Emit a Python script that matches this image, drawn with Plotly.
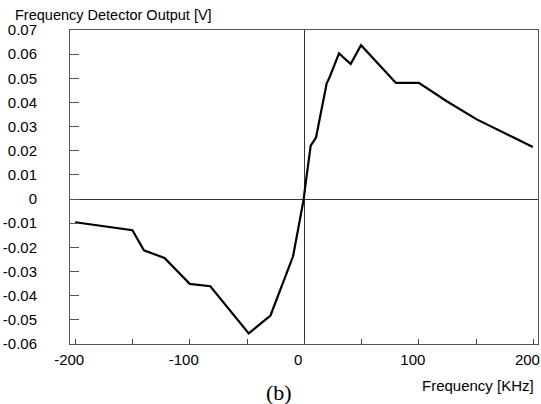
import plotly.graph_objects as go

freq_khz = [-200, -150, -140, -122, -100, -82, -48.5, -29.5, -9.8, -0.5, 0.8, 5.6, 10.2, 19.5, 22.4,
            30.3, 40.5, 49.5, 80, 100, 124, 150.5, 199.5]
output_v = [-0.0096, -0.0129, -0.0212, -0.0244, -0.0351, -0.0361, -0.0556, -0.0482, -0.0237, 0.0,
            0.0052, 0.0221, 0.0254, 0.0478, 0.0508, 0.0603, 0.0559, 0.0637, 0.0481, 0.0481,
            0.0406, 0.0330, 0.0216]

x_tickvals = [-200, -150, -100, -50, 0, 50, 100, 150, 200]
x_ticktext = ["-200", "", "-100", "", "0", "", "100", "", "200"]
y_tickvals = [0.07, 0.06, 0.05, 0.04, 0.03, 0.02, 0.01, 0, -0.01, -0.02, -0.03, -0.04, -0.05, -0.06]
y_ticktext = ["0.07", "0.06", "0.05", "0.04", "0.03", "0.02", "0.01", "0",
              "-0.01", "-0.02", "-0.03", "-0.04", "-0.05", "-0.06"]

fig = go.Figure()
fig.add_trace(go.Scatter(x=freq_khz, y=output_v, mode="lines",
                         line=dict(color="black", width=2.2), showlegend=False))

fig.update_layout(
    width=541, height=404,
    margin=dict(l=70, r=3, t=30, b=60),
    paper_bgcolor="white", plot_bgcolor="white",
    font=dict(family="Arial", color="black", size=14),
    xaxis=dict(range=[-204.5, 204], tickvals=x_tickvals, ticktext=x_ticktext,
               ticks="inside", ticklen=5, tickcolor="#444", showgrid=False,
               showline=True, linecolor="#555", linewidth=1, mirror=True,
               zeroline=True, zerolinecolor="#333", zerolinewidth=1.2,
               tickfont=dict(size=15), ticklabelstandoff=2, ticklabelshift=-6,
               ticklabeloverflow="allow", automargin=False),
    yaxis=dict(range=[-0.06, 0.07], tickvals=y_tickvals, ticktext=y_ticktext,
               ticks="inside", ticklen=9, tickcolor="#555", showgrid=False,
               showline=True, linecolor="#555", linewidth=1, mirror=True,
               zeroline=True, zerolinecolor="#333", zerolinewidth=1.2,
               tickfont=dict(size=15), ticklabelstandoff=29,
               ticklabeloverflow="allow", automargin=False),
    annotations=[
        dict(text="Frequency Detector Output [V]", xref="paper", yref="paper",
             x=-0.122, y=1.0, xanchor="left", yanchor="bottom", yshift=5,
             showarrow=False, font=dict(size=14.5)),
        dict(text="Frequency [KHz]", xref="paper", yref="paper",
             x=0.996, y=0, xanchor="right", yanchor="top", yshift=-31,
             showarrow=False, font=dict(size=15)),
        dict(text="(b)", xref="paper", yref="paper",
             x=0.447, y=0, xanchor="center", yanchor="top", yshift=-34,
             showarrow=False, font=dict(size=22, family="Times New Roman")),
    ],
)

fig.write_html("out.html", config={"displayModeBar": False},
               post_script="document.body.style.margin='0';document.body.style.overflow='hidden';")
